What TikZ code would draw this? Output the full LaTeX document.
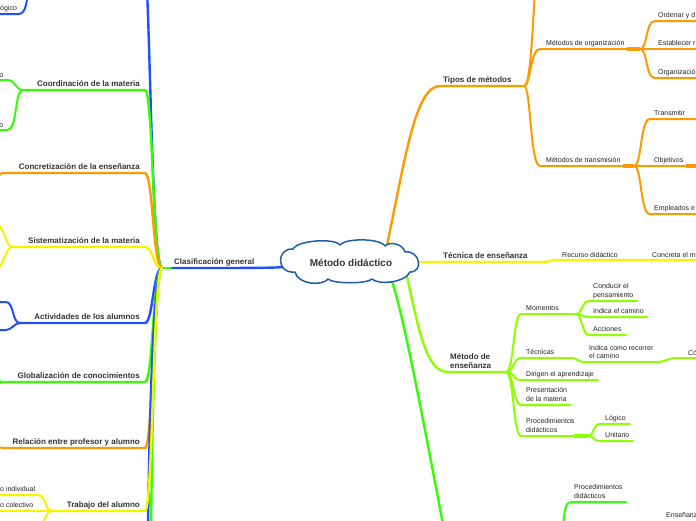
\documentclass[tikz,border=0pt]{standalone}
\usepackage{fontspec}
\setmainfont{Liberation Sans}
\definecolor{cblue}{HTML}{1F4FFF}
\definecolor{cgreen}{HTML}{33FF00}
\definecolor{corange}{HTML}{FF9900}
\definecolor{cyellow}{HTML}{F5F500}
\definecolor{clime}{HTML}{8CFF00}
\definecolor{cloudc}{HTML}{1C5EA8}
\definecolor{txtd}{HTML}{333333}
\definecolor{txts}{HTML}{222222}
\begin{document}
\begin{tikzpicture}[x=1pt,y=-1pt,
  br/.style={line width=2.4pt,line cap=round},
  sb/.style={line width=2pt,line cap=round},
  knot/.style={line width=3.2pt},
  big/.style={font=\bfseries\fontsize{8}{9.5}\selectfont,text=txtd,inner sep=0pt},
  small/.style={font=\fontsize{7}{8.5}\selectfont,text=txts,inner sep=0pt,align=left},
  cloudline/.style={draw=cloudc,line width=1.5pt,fill=white,line join=round},
  roottext/.style={font=\bfseries\fontsize{10}{12}\selectfont,text=txtd,inner sep=0pt}]
\useasboundingbox (0,0) rectangle (696,520);
\clip (0,0) rectangle (696,520);

% ---------------- left: Clasificacion general ----------------
\coordinate (J) at (162,268);
\coordinate (Jr) at (171,268);
\coordinate (rootW) at (296,266);
\draw[br,cblue] (rootW) .. controls (275,268) .. (Jr);
\draw[br,cgreen] (J) -- (Jr);
\node[big,anchor=base west] (clas) at (174,264) {Clasificación general};

% blue branch going off the top
\coordinate (blueTop) at (147,-10);
\draw[br,cblue] (J) .. controls (153,268) and (151,80) .. (blueTop);
\coordinate (bTopA) at (28,-6);
\coordinate (bTopB) at (-6,14);
\draw[sb,cblue] (bTopA) .. controls (26,6) and (25,14) .. (18,14) -- (bTopB);
\node[small,anchor=base west] (ogico) at (0,10.5) {ógico};

% Coordinacion de la materia
\coordinate (cCo) at (145,90); \coordinate (sCo) at (23,90);
\draw[br,cgreen] (J) .. controls (153,268) and (153,90) .. (cCo) -- (sCo);
\node[big,anchor=base east] (coord) at (140,86) {Coordinación de la materia};
\coordinate (coU) at (-6,80); \coordinate (coD) at (-6,130);
\draw[sb,cgreen] (sCo) .. controls (15,90) and (16,80) .. (7,80) -- (coU);
\draw[sb,cgreen] (sCo) .. controls (14,90) and (18,130) .. (7,130) -- (coD);
\node[small,anchor=base east] (coUt) at (3.5,77) {o};
\node[small,anchor=base east] (coDt) at (3.5,127) {o};

% Concretizacion de la ensenanza
\coordinate (cCn) at (145,173); \coordinate (sCn) at (3,173);
\draw[br,corange] (J) .. controls (153,268) and (153,173) .. (cCn) -- (sCn);
\node[big,anchor=base east] (concr) at (140,169) {Concretización de la enseñanza};
\coordinate (cnD) at (-4,181);
\draw[sb,corange] (sCn) .. controls (0,173) and (-1,176) .. (cnD);

% Sistematizacion de la materia
\coordinate (cSi) at (145,247); \coordinate (sSi) at (13,247);
\draw[br,cyellow] (J) .. controls (153,268) and (153,247) .. (cSi) -- (sSi);
\node[big,anchor=base east] (sist) at (140,243) {Sistematización de la materia};
\coordinate (siU) at (-6,221); \coordinate (siD) at (-6,271);
\draw[sb,cyellow] (sSi) .. controls (4,247) and (6,226) .. (siU);
\draw[sb,cyellow] (sSi) .. controls (4,247) and (6,266) .. (siD);

% Actividades de los alumnos
\coordinate (cAc) at (145,323); \coordinate (sAc) at (20,323);
\draw[br,cblue] (J) .. controls (153,268) and (153,323) .. (cAc) -- (sAc);
\node[big,anchor=base east] (activ) at (140,319) {Actividades de los alumnos};
\coordinate (acU) at (-6,302); \coordinate (acD) at (-6,330);
\draw[sb,cblue] (sAc) .. controls (12,323) and (14,302) .. (6,302) -- (acU);
\draw[sb,cblue] (sAc) .. controls (14,323) and (12,330) .. (6,330) -- (acD);

% Globalizacion de conocimientos
\coordinate (cGl) at (145,382); \coordinate (sGl) at (3,382);
\draw[br,cgreen] (J) .. controls (153,268) and (153,382) .. (cGl) -- (sGl);
\node[big,anchor=base east] (glob) at (140,378) {Globalización de conocimientos};
\coordinate (glU) at (-4,377); \coordinate (glD) at (-4,387);
\draw[sb,cgreen] (sGl) .. controls (0,382) .. (glU);
\draw[sb,cgreen] (sGl) .. controls (0,382) .. (glD);

% Relacion entre profesor y alumno
\coordinate (cRe) at (145,448); \coordinate (sRe) at (3,448);
\draw[br,corange] (J) .. controls (153,268) and (153,448) .. (cRe) -- (sRe);
\node[big,anchor=base east] (rel) at (140,444) {Relación entre profesor y alumno};
\coordinate (reU) at (-4,443);
\draw[sb,corange] (sRe) .. controls (0,448) .. (reU);

% extra branches going off the bottom
\coordinate (botB) at (148,530); \coordinate (botG) at (151,530);
\draw[br,cblue] (J) .. controls (153,268) and (149,440) .. (botB);
\draw[br,cgreen] (J) .. controls (155,268) and (152,440) .. (botG);

% Trabajo del alumno
\coordinate (cTr) at (145,511); \coordinate (sTr) at (52,511);
\draw[br,cyellow] (J) .. controls (153,268) and (153,511) .. (cTr) -- (sTr);
\node[big,anchor=base east] (trab) at (140,507) {Trabajo del alumno};
\coordinate (trU) at (-6,495); \coordinate (trM) at (-6,511); \coordinate (trD) at (42,528);
\draw[sb,cyellow] (sTr) .. controls (45,511) and (46,495) .. (38,495) -- (trU);
\draw[sb,cyellow] (sTr) -- (trM);
\draw[sb,cyellow] (sTr) .. controls (47,511) and (46,515) .. (trD);
\node[small,anchor=base west] (indiv) at (0,491.5) {o individual};
\node[small,anchor=base west] (colec) at (0,507.5) {o colectivo};

% ---------------- right: Tipos de metodos ----------------
\coordinate (rootN) at (386,250);
\coordinate (tipA) at (440,86);
\coordinate (T) at (524,86);
\draw[br,corange] (rootN) .. controls (405,160) and (415,86) .. (tipA) -- (T);
\node[big,anchor=base west] (tipos) at (443,82) {Tipos de métodos};
\coordinate (Tup) at (535,-10);
\draw[sb,corange] (T) .. controls (530,86) and (532,40) .. (Tup);

\coordinate (orgS) at (540,49); \coordinate (orgE) at (627,49); \coordinate (O) at (640,49);
\draw[sb,corange] (T) .. controls (531,86) and (530,49) .. (orgS) -- (O);
\draw[knot,corange] (orgE) -- (O);
\node[small,anchor=base west] (org) at (546,45.5) {Métodos de organización};
\coordinate (o1) at (705,21); \coordinate (o2) at (705,49); \coordinate (o3) at (705,78);
\draw[sb,corange] (O) .. controls (648,49) and (645,21) .. (655,21) -- (o1);
\draw[sb,corange] (O) -- (o2);
\draw[sb,corange] (O) .. controls (648,49) and (645,78) .. (655,78) -- (o3);
\node[small,anchor=base west] (ord) at (658,17.5) {Ordenar y d};
\node[small,anchor=base west] (est) at (658,45.5) {Establecer r};
\node[small,anchor=base west] (orgz) at (658,74.5) {Organizació};

\coordinate (trS) at (540,166); \coordinate (trE) at (623,166); \coordinate (Mt) at (634,166);
\draw[sb,corange] (T) .. controls (531,86) and (530,166) .. (trS) -- (Mt);
\draw[knot,corange] (trE) -- (Mt);
\node[small,anchor=base west] (trans) at (546,162.5) {Métodos de transmisión};
\coordinate (m1) at (705,119); \coordinate (m2) at (705,166); \coordinate (m3) at (705,214);
\coordinate (m2k) at (686,166);
\draw[sb,corange] (Mt) .. controls (642,166) and (640,119) .. (650,119) -- (m1);
\draw[sb,corange] (Mt) -- (m2);
\draw[knot,corange] (m2k) -- (m2);
\draw[sb,corange] (Mt) .. controls (642,166) and (640,214) .. (650,214) -- (m3);
\node[small,anchor=base west] (transm) at (654,115.5) {Transmitir};
\node[small,anchor=base west] (objet) at (654,162.5) {Objetivos};
\node[small,anchor=base west] (emple) at (654,210.5) {Empleados e};

% ---------------- right: Tecnica de ensenanza ----------------
\coordinate (rootE) at (408,262);
\coordinate (tecA) at (543,262); \coordinate (tecB) at (556,260); \coordinate (tecEnd) at (705,260);
\draw[br,cyellow] (rootE) -- (tecA) .. controls (549,262) and (550,260) .. (tecB) -- (tecEnd);
\node[big,anchor=base west] (tecn) at (443,258) {Técnica de enseñanza};
\node[small,anchor=base west] (recur) at (562,257) {Recurso didáctico};
\node[small,anchor=base west] (concm) at (652,257) {Concreta el m};

% ---------------- right: Metodo de ensenanza ----------------
\coordinate (rootS) at (406,272);
\coordinate (menA) at (448,372); \coordinate (E) at (506,372);
\draw[br,clime] (rootS) .. controls (418,325) and (425,372) .. (menA) -- (E);
\node[big,anchor=south west,align=left] (meten) at (450,369) {Método de\\enseñanza};

% Momentos
\coordinate (Mo) at (576,314);
\draw[sb,clime] (E) .. controls (514,372) and (513,314) .. (521,314) -- (Mo);
\node[small,anchor=base west] (mom) at (526,310.5) {Momentos};
\coordinate (mo1) at (637,301); \coordinate (mo2) at (647,317); \coordinate (mo3) at (626,335);
\draw[sb,clime] (Mo) .. controls (582,314) and (582,301) .. (589,301) -- (mo1);
\draw[sb,clime] (Mo) .. controls (582,314) and (582,317) .. (589,317) -- (mo2);
\draw[sb,clime] (Mo) .. controls (582,314) and (582,335) .. (589,335) -- (mo3);
\node[small,anchor=south west] (condu) at (593,299) {Conducir el\\pensamiento};
\node[small,anchor=base west] (indic) at (593,313.5) {Indica el camino};
\node[small,anchor=base west] (accio) at (593,331.5) {Acciones};

% Tecnicas
\coordinate (tcEnd) at (705,358);
\draw[sb,clime] (E) .. controls (514,372) and (513,358) .. (521,358) -- (572,358)
  .. controls (577,358) and (578,362) .. (584,362) -- (657,362)
  .. controls (665,362) and (668,358) .. (677,358) -- (tcEnd);
\node[small,anchor=base west] (tecni) at (526,354.5) {Técnicas};
\node[small,anchor=south west] (recor) at (589,359) {Indica como recorrer\\el camino};
\node[small,anchor=base west] (como) at (688,355) {Có};

% Dirigen el aprendizaje
\coordinate (dirE) at (598,380);
\draw[sb,clime] (E) .. controls (514,372) and (513,380) .. (521,380) -- (dirE);
\node[small,anchor=base west] (dirig) at (526,376.5) {Dirigen el aprendizaje};

% Presentacion de la materia
\coordinate (preE) at (571,405);
\draw[sb,clime] (E) .. controls (514,372) and (513,405) .. (521,405) -- (preE);
\node[small,anchor=south west] (prese) at (526,401.5) {Presentación\\de la materia};

% Procedimientos didacticos
\coordinate (pdK) at (574,436); \coordinate (Pd) at (588,436);
\draw[sb,clime] (E) .. controls (514,372) and (513,436) .. (521,436) -- (Pd);
\draw[knot,clime] (pdK) -- (Pd);
\node[small,anchor=south west] (proce) at (526,432.5) {Procedimientos\\didácticos};
\coordinate (lo) at (630,424); \coordinate (un) at (633,441);
\draw[sb,clime] (Pd) .. controls (594,436) and (593,424) .. (600,424) -- (lo);
\draw[sb,clime] (Pd) .. controls (594,436) and (593,441) .. (600,441) -- (un);
\node[small,anchor=base west] (logi) at (605,420.5) {Lógico};
\node[small,anchor=base west] (unit) at (605,437.5) {Unitario};

% ---------------- bottom green branch ----------------
\coordinate (rootSW) at (390,276);
\coordinate (gBot) at (446,540);
\draw[br,cgreen] (rootSW) .. controls (402,305) and (425,430) .. (gBot);
\coordinate (pd2B) at (563,526); \coordinate (pd2S) at (572,502); \coordinate (pd2E) at (626,502);
\draw[sb,cgreen] (pd2B) .. controls (565,506) and (566,502) .. (pd2S) -- (pd2E);
\node[small,anchor=south west] (proc2) at (574,498.5) {Procedimientos\\didácticos};
\node[small,anchor=base west] (ensen) at (666,517.5) {Enseñanz};

% ---------------- root cloud ----------------
\coordinate (cA) at (293,249); \coordinate (cB) at (340,245);
\coordinate (cC) at (385,246); \coordinate (cD) at (405,252);
\coordinate (cE) at (410,272); \coordinate (cF) at (372,279);
\coordinate (cG) at (328,279); \coordinate (cH) at (295,272);
\path[cloudline] (cA) .. controls (298,240) and (335,238) .. (cB)
  .. controls (345,238) and (380,238) .. (cC)
  .. controls (390,241) and (403,244) .. (cD)
  .. controls (420,250) and (424,272) .. (cE)
  .. controls (405,283) and (378,285) .. (cF)
  .. controls (367,284) and (333,284) .. (cG)
  .. controls (323,286) and (298,285) .. (cH)
  .. controls (276,274) and (276,248) .. (cA) -- cycle;
\node[roottext] (root) at (351,263) {Método didáctico};
\end{tikzpicture}
\end{document}
